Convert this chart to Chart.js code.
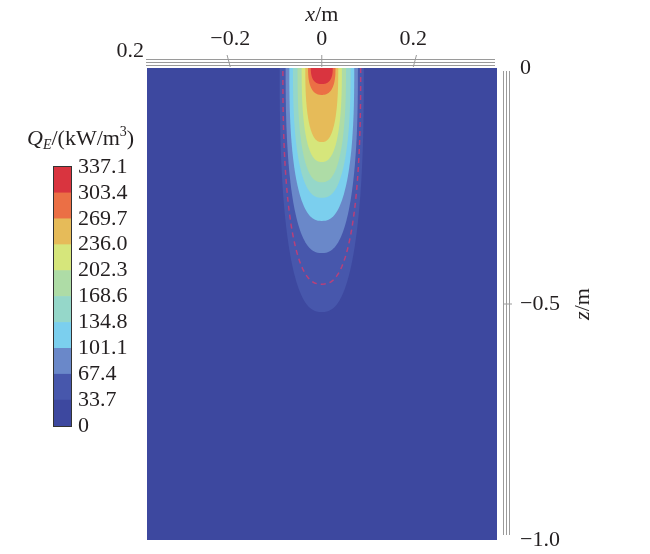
<!DOCTYPE html>
<html>
<head>
<meta charset="utf-8">
<script src="https://cdn.jsdelivr.net/npm/chart.js@4.4.1/dist/chart.umd.min.js"></script>
<style>
  html, body { margin: 0; padding: 0; background: #fff; }
  #wrap { position: relative; width: 650px; height: 554px; }
  #wrap canvas { position: absolute; left: 0; top: 0; }
</style>
</head>
<body>
<div id="wrap">
  <canvas id="campo" width="650" height="554"></canvas>
  <canvas id="barra" width="650" height="554"></canvas>
</div>
<script>
// niveis da barra de cores (kW/m3)
const levelTicks = [0, 33.7, 67.4, 101.1, 134.8, 168.6, 202.3, 236.0, 269.7, 303.4, 337.1];
const levelLabels = ['0', '33.7', '67.4', '101.1', '134.8', '168.6', '202.3', '236.0', '269.7', '303.4', '337.1'];
const levelColors = ['#3d489f', '#4757ac', '#6a88c9', '#7bcfee', '#95d7c9', '#aedca6',
                     '#d6e67b', '#e6bb59', '#eb6f45', '#d9343f'];

// contornos: meia largura na superficie (m) e profundidade (m)
const contourHalfWidth = [0.092, 0.079, 0.071, 0.063, 0.053, 0.044, 0.036, 0.030, 0.024];
const contourDepth = [0.517, 0.392, 0.324, 0.275, 0.242, 0.199, 0.157, 0.057, 0.034];

// contorno tracejado
const dashHalfWidth = 0.085;
const dashDepth = 0.458;

// eixos
const xTicks = [-0.2, 0, 0.2];
const xTickLabels = ['\u22120.2', '0', '0.2'];
const zTicks = [0, -0.5, -1.0];
const zTickLabels = ['0', '\u22120.5', '\u22121.0'];

const fonte = '"Liberation Serif", "Times New Roman", serif';
const corTexto = '#231f20';
const tam = 22;
const formaU = 2.5; // expoente da curva em U dos contornos

// texto com partes em italico
function textoMisto(ctx, partes, x, y, alinhar) {
    let largura = 0;
    partes.forEach(p => {
        ctx.font = (p.it ? 'italic ' : '') + p.size + 'px ' + fonte;
        largura += ctx.measureText(p.t).width;
    });
    let px = alinhar === 'center' ? x - largura / 2 : (alinhar === 'right' ? x - largura : x);
    ctx.textAlign = 'left';
    partes.forEach(p => {
        ctx.font = (p.it ? 'italic ' : '') + p.size + 'px ' + fonte;
        ctx.fillText(p.t, px, y + (p.dy || 0));
        px += ctx.measureText(p.t).width;
    });
}

// caminho em U (meia superelipse) a partir da superficie
function caminhoU(ctx, cx, cy, rx, ry) {
    ctx.beginPath();
    for (let k = 0; k <= 90; k++) {
        const t = Math.PI * k / 90;
        const c = Math.cos(t), s = Math.sin(t);
        const px = cx + rx * Math.sign(c) * Math.pow(Math.abs(c), 2 / formaU);
        const py = cy + ry * Math.pow(s, 2 / formaU);
        if (k === 0) ctx.moveTo(px, py); else ctx.lineTo(px, py);
    }
}

const campoPlugin = {
    id: 'campo',
    beforeDatasetsDraw(chart) {
        const { ctx, chartArea: a, scales: { x, y } } = chart;
        ctx.save();
        ctx.beginPath();
        ctx.rect(a.left, a.top, a.right - a.left, a.bottom - a.top);
        ctx.clip();
        ctx.fillStyle = levelColors[0];
        ctx.fillRect(a.left, a.top, a.right - a.left, a.bottom - a.top);

        const cx = x.getPixelForValue(0);
        const cy = y.getPixelForValue(0);
        contourHalfWidth.forEach((w, i) => {
            const rx = x.getPixelForValue(w) - cx;
            const ry = y.getPixelForValue(-contourDepth[i]) - cy;
            caminhoU(ctx, cx, cy, rx, ry);
            ctx.closePath();
            ctx.fillStyle = levelColors[i + 1];
            ctx.fill();
        });

        // linha tracejada
        const rxd = x.getPixelForValue(dashHalfWidth) - cx;
        const ryd = y.getPixelForValue(-dashDepth) - cy;
        caminhoU(ctx, cx, cy, rxd, ryd);
        ctx.setLineDash([5, 4]);
        ctx.lineWidth = 1.5;
        ctx.strokeStyle = '#b8407a';
        ctx.stroke();
        ctx.restore();
    },
    afterDraw(chart) {
        const { ctx, chartArea: a, scales: { x, y } } = chart;
        ctx.save();
        ctx.strokeStyle = '#9a9a9a';
        ctx.lineWidth = 1;
        // bordas da caixa 3D
        [3, 6, 9].forEach(d => {
            ctx.beginPath();
            ctx.moveTo(a.left - 1, a.top - d + 0.5);
            ctx.lineTo(a.right - 2, a.top - d + 0.5);
            ctx.stroke();
            ctx.beginPath();
            ctx.moveTo(a.right + d + 3.5, a.top + 3);
            ctx.lineTo(a.right + d + 3.5, a.bottom - 5);
            ctx.stroke();
        });
        const cx = x.getPixelForValue(0);
        xTicks.forEach(v => {
            const px = x.getPixelForValue(v);
            ctx.beginPath();
            ctx.moveTo(px, a.top - 1);
            ctx.lineTo(px + (px - cx) * 0.035, a.top - 13);
            ctx.stroke();
        });
        const ym = y.getPixelForValue(-0.5);
        ctx.beginPath();
        ctx.moveTo(a.right + 6, ym);
        ctx.lineTo(a.right + 15, ym);
        ctx.stroke();

        ctx.fillStyle = corTexto;
        ctx.textBaseline = 'alphabetic';
        textoMisto(ctx, [{ t: 'x', it: true, size: tam }, { t: '/m', size: tam }], cx, 21, 'center');
        textoMisto(ctx, [{ t: '0.2', size: tam }], a.left - 3, 57, 'right');

        ctx.translate(589, (a.top + a.bottom) / 2);
        ctx.rotate(-Math.PI / 2);
        textoMisto(ctx, [{ t: 'z', it: true, size: tam }, { t: '/m', size: tam }], 0, 0, 'center');
        ctx.restore();
    }
};

new Chart(document.getElementById('campo'), {
    type: 'scatter',
    data: { datasets: [] },
    options: {
        responsive: false,
        animation: false,
        layout: { padding: { left: 147, top: 18, right: 53, bottom: 14 } },
        plugins: { legend: { display: false }, tooltip: { enabled: false } },
        scales: {
            x: {
                type: 'linear',
                position: 'top',
                min: -0.382,
                max: 0.383,
                afterBuildTicks: s => { s.ticks = xTicks.map(v => ({ value: v })); },
                afterFit: s => { s.height = 50; },
                grid: { display: true, drawOnChartArea: false, drawTicks: true, tickLength: 14, color: 'rgba(0,0,0,0)' },
                border: { display: false },
                ticks: {
                    callback: (v, i) => xTickLabels[i],
                    font: { family: fonte, size: tam },
                    color: corTexto,
                    padding: 2,
                    maxRotation: 0
                }
            },
            y: {
                type: 'linear',
                position: 'right',
                min: -1,
                max: 0,
                afterBuildTicks: s => { s.ticks = zTicks.map(v => ({ value: v })); },
                afterFit: s => { s.width = 100; },
                grid: { display: true, drawOnChartArea: false, drawTicks: true, tickLength: 23, color: 'rgba(0,0,0,0)' },
                border: { display: false },
                ticks: {
                    callback: (v, i) => zTickLabels[i],
                    font: { family: fonte, size: tam },
                    color: corTexto,
                    padding: 0
                }
            }
        }
    },
    plugins: [campoPlugin]
});

const barraPlugin = {
    id: 'barra',
    afterDraw(chart) {
        const { ctx, chartArea: a } = chart;
        ctx.save();
        ctx.strokeStyle = '#333';
        ctx.lineWidth = 1;
        ctx.strokeRect(a.left - 0.5, a.top - 0.5, a.right - a.left + 1, a.bottom - a.top + 1);
        ctx.fillStyle = corTexto;
        textoMisto(ctx, [
            { t: 'Q', it: true, size: tam },
            { t: 'E', it: true, size: 14, dy: 4 },
            { t: '/(kW/m', size: tam },
            { t: '3', size: 14, dy: -9 },
            { t: ')', size: tam }
        ], 27, 145, 'left');
        ctx.restore();
    }
};

new Chart(document.getElementById('barra'), {
    type: 'bar',
    data: {
        labels: ['QE'],
        datasets: levelColors.map((c, i) => ({
            data: [[levelTicks[i], levelTicks[i + 1]]],
            backgroundColor: c,
            borderWidth: 0,
            grouped: false,
            barPercentage: 1,
            categoryPercentage: 1
        }))
    },
    options: {
        responsive: false,
        animation: false,
        layout: { padding: { left: 54, right: 650 - 71 - 80, top: 167, bottom: 128 } },
        plugins: { legend: { display: false }, tooltip: { enabled: false } },
        scales: {
            x: { display: false },
            y: {
                position: 'right',
                min: 0,
                max: 337.1,
                afterBuildTicks: s => { s.ticks = levelTicks.map(v => ({ value: v })); },
                afterFit: s => { s.width = 80; },
                grid: { display: false, drawTicks: false },
                border: { display: false },
                ticks: {
                    autoSkip: false,
                    padding: 7,
                    callback: (v, i) => levelLabels[i],
                    font: { family: fonte, size: tam },
                    color: corTexto
                }
            }
        }
    },
    plugins: [barraPlugin]
});
</script>
</body>
</html>
